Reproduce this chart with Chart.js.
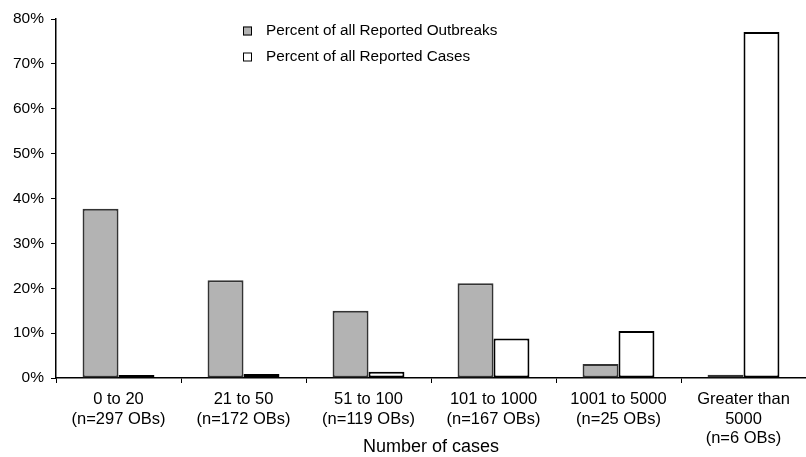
<!DOCTYPE html>
<html>
<head>
<meta charset="utf-8">
<title>Outbreaks by number of cases</title>
<script src="https://cdn.jsdelivr.net/npm/chart.js@4/dist/chart.umd.min.js"></script>
<style>
    html, body { margin: 0; padding: 0; background: #fff; }
    #wrap { position: relative; width: 806px; height: 457px; }
</style>
</head>
<body>
<div id="wrap"><canvas id="outbreakChart"></canvas></div>
<script>
// Datos
const categories = [
    ['0 to 20', '(n=297 OBs)'],
    ['21 to 50', '(n=172 OBs)'],
    ['51 to 100', '(n=119 OBs)'],
    ['101 to 1000', '(n=167 OBs)'],
    ['1001 to 5000', '(n=25 OBs)'],
    ['Greater than', '5000', '(n=6 OBs)']
];
const outbreakPct = [37.7, 21.8, 15.0, 21.1, 3.1, 0.7];
const casePct = [0.4, 0.9, 1.4, 8.8, 10.5, 77.1];
const seriesNames = ['Percent of all Reported Outbreaks', 'Percent of all Reported Cases'];
const yMax = 80;
const yStep = 10;

const FONT = 'Liberation Sans, Arial, Helvetica, sans-serif';

document.addEventListener('DOMContentLoaded', function() {
    // Leyenda vertical dentro del área del gráfico
    const boxLegend = {
        id: 'boxLegend',
        afterDraw(chart) {
            const ctx = chart.ctx;
            ctx.save();
            ctx.font = '15.3px ' + FONT;
            ctx.textBaseline = 'middle';
            chart.data.datasets.forEach((ds, i) => {
                const y = 31 + i * 26;
                ctx.fillStyle = ds.backgroundColor;
                ctx.fillRect(243, y - 4.5, 9, 9);
                ctx.lineWidth = 1;
                ctx.strokeStyle = '#000';
                ctx.strokeRect(243.5, y - 4, 8, 8);
                ctx.fillStyle = '#000';
                ctx.fillText(ds.label, 266, y);
            });
            ctx.restore();
        }
    };

    const canvas = document.getElementById('outbreakChart');
    new Chart(canvas.getContext('2d'), {
        type: 'bar',
        data: {
            labels: categories,
            datasets: [{
                label: seriesNames[0],
                data: outbreakPct,
                backgroundColor: '#b3b3b3',
                borderColor: '#333333',
                borderWidth: 2,
                borderSkipped: false,
                minBarLength: 3,
                barPercentage: 1,
                categoryPercentage: 0.575
            }, {
                label: seriesNames[1],
                data: casePct,
                backgroundColor: '#ffffff',
                borderColor: '#000000',
                borderWidth: 2,
                borderSkipped: false,
                minBarLength: 3,
                barPercentage: 1,
                categoryPercentage: 0.575
            }]
        },
        options: {
            responsive: true,
            maintainAspectRatio: false,
            animation: false,
            layout: { padding: { top: 19, right: 0, bottom: 0, left: 0 } },
            plugins: {
                legend: { display: false },
                tooltip: { enabled: false }
            },
            scales: {
                x: {
                    grid: { drawOnChartArea: false, drawTicks: true, tickLength: 5, color: '#000', offset: true },
                    border: { display: true, color: '#000', width: 1.5 },
                    ticks: { color: '#000', padding: 7, maxRotation: 0, autoSkip: false,
                             font: { family: FONT, size: 16.5, lineHeight: 1.17 } },
                    title: { display: true, text: 'Number of cases', color: '#000',
                             font: { family: FONT, size: 18, lineHeight: 1.1 }, padding: 0 },
                    afterFit(scale) { scale.height = 79; }
                },
                y: {
                    min: 0,
                    max: yMax,
                    grid: { drawOnChartArea: false, drawTicks: true, tickLength: 5, color: '#000' },
                    border: { display: true, color: '#000', width: 1.5 },
                    ticks: {
                        stepSize: yStep,
                        color: '#000',
                        padding: 7,
                        font: { family: FONT, size: 15.5 },
                        callback: v => v + '%'
                    },
                    afterFit(scale) { scale.width = 56; }
                }
            }
        },
        plugins: [boxLegend]
    });
});
</script>
</body>
</html>
